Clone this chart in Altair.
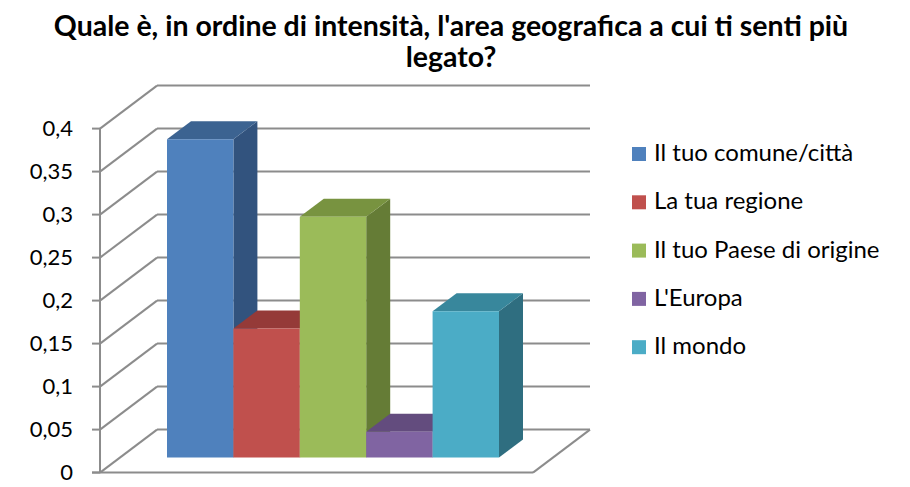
import altair as alt
import pandas as pd

# ---- data ----
categories = ["Il tuo comune/città", "La tua regione", "Il tuo Paese di origine", "L'Europa", "Il mondo"]
values = [0.37, 0.15, 0.28, 0.03, 0.17]
front_colors = ["#4F81BD", "#C0504D", "#9BBB59", "#8064A2", "#4BACC6"]
top_colors = ["#3C6391", "#953A38", "#789340", "#634C7E", "#38879C"]
side_colors = ["#32537E", "#7E302F", "#657C36", "#534069", "#2F6E80"]
tick_values = [0, 0.05, 0.1, 0.15, 0.2, 0.25, 0.3, 0.35, 0.4]
tick_labels = ["0", "0,05", "0,1", "0,15", "0,2", "0,25", "0,3", "0,35", "0,4"]
title_lines = ["Quale è, in ordine di intensità, l'area geografica a cui ti senti più", "legato?"]

# ---- 3D layout constants (pseudo-perspective) ----
AXIS_X = 100          # front axis position (x scale units = px)
WALL_DX = 57          # horizontal depth offset of the wall
WALL_DV = 0.05        # vertical depth offset of the wall (value units)
BACK_RIGHT = 590
FLOOR_RIGHT = 533
TICK_LEFT = 92
BAR_X0 = 167
BAR_W = 66.4
BAR_BASE = 0.0175
BAR_DX = 24
BAR_DV = 0.021
GRID = "#8c8c8c"

PX_PER_UNIT = 860
Y_MIN, Y_MAX = -0.01, 0.46
W = 702
H = round((Y_MAX - Y_MIN) * PX_PER_UNIT, 1)
xscale = alt.Scale(domain=[100, 100 + W], nice=False, zero=False)
yscale = alt.Scale(domain=[Y_MIN, Y_MAX], nice=False, zero=False)

# gridlines / walls / ticks
rules = []
for t in tick_values:
    rules.append(dict(x=AXIS_X + WALL_DX, x2=BACK_RIGHT, y=t + WALL_DV, y2=t + WALL_DV))
    rules.append(dict(x=AXIS_X, x2=AXIS_X + WALL_DX, y=t, y2=t + WALL_DV))
    rules.append(dict(x=TICK_LEFT, x2=AXIS_X, y=t, y2=t))
rules.append(dict(x=TICK_LEFT, x2=FLOOR_RIGHT, y=0, y2=0))
rules.append(dict(x=FLOOR_RIGHT, x2=BACK_RIGHT, y=0, y2=WALL_DV))
rules.append(dict(x=AXIS_X, x2=AXIS_X, y=0, y2=tick_values[-1]))
rules_df = pd.DataFrame(rules)

fronts, tops, sides = [], [], []
for i, (cat, v) in enumerate(zip(categories, values)):
    x0 = BAR_X0 + i * BAR_W
    x1 = x0 + BAR_W
    b = BAR_BASE
    t = BAR_BASE + v
    fronts.append(dict(cat=cat, x=x0, x2=x1, y=b, y2=t))
    c = top_colors[i]
    for (xx, ya, yb) in [(x0, t, t), (x0 + BAR_DX, t, t + BAR_DV), (x1, t, t + BAR_DV), (x1 + BAR_DX, t + BAR_DV, t + BAR_DV)]:
        tops.append(dict(cat=cat, c=c, x=xx, y=ya, y2=yb))
    c = side_colors[i]
    for (xx, ya, yb) in [(x1, b, t), (x1 + BAR_DX, b + BAR_DV, t + BAR_DV)]:
        sides.append(dict(cat=cat, c=c, x=xx, y=ya, y2=yb))

fronts_df = pd.DataFrame(fronts)
tops_df = pd.DataFrame(tops)
sides_df = pd.DataFrame(sides)
ticks_df = pd.DataFrame({"y": tick_values, "label": tick_labels})

label_layer = alt.Chart(ticks_df).mark_text(
    align="right", baseline="middle", font="Lato", fontSize=22, color="black"
).encode(
    x=alt.value(-27),
    y=alt.Y("y:Q", scale=yscale, axis=None),
    text="label:N",
)

grid_layer = alt.Chart(rules_df).mark_rule(color=GRID, strokeWidth=2).encode(
    x=alt.X("x:Q", scale=xscale, axis=None),
    x2="x2:Q",
    y=alt.Y("y:Q", scale=yscale, axis=None),
    y2="y2:Q",
)

side_layer = alt.Chart(sides_df).mark_area(orient="vertical", interpolate="linear").encode(
    x=alt.X("x:Q", scale=xscale, axis=None),
    y=alt.Y("y:Q", scale=yscale, axis=None, stack=None),
    y2="y2:Q",
    color=alt.Color("c:N", scale=None),
    detail="cat:N",
)

top_layer = alt.Chart(tops_df).mark_area(orient="vertical", interpolate="linear").encode(
    x=alt.X("x:Q", scale=xscale, axis=None),
    y=alt.Y("y:Q", scale=yscale, axis=None, stack=None),
    y2="y2:Q",
    color=alt.Color("c:N", scale=None),
    detail="cat:N",
)

front_layer = alt.Chart(fronts_df).mark_rect().encode(
    x=alt.X("x:Q", scale=xscale, axis=None),
    x2="x2:Q",
    y=alt.Y("y:Q", scale=yscale, axis=None),
    y2="y2:Q",
    color=alt.Color("cat:N", scale=alt.Scale(domain=categories, range=front_colors),
                    legend=alt.Legend(orient="none", legendX=527, legendY=65, title=None,
                                      symbolType="square", symbolSize=196, symbolStrokeWidth=0,
                                      labelFont="Lato", labelFontSize=24, labelColor="black",
                                      labelOffset=3, rowPadding=24.3, labelLimit=400)),
)

chart = alt.layer(label_layer, grid_layer, side_layer, top_layer, front_layer).properties(
    width=W, height=H,
    title=alt.TitleParams(text=title_lines, font="Lato", fontSize=28.5, fontWeight="bold",
                          anchor="middle", lineHeight=31, offset=4, color="black"),
    autosize=alt.AutoSizeParams(type="none"),
    padding={"left": 92, "top": 69, "right": 100, "bottom": 4},
).configure_view(stroke=None)

chart.save("out.html", embed_options={"renderer": "svg", "actions": False})
